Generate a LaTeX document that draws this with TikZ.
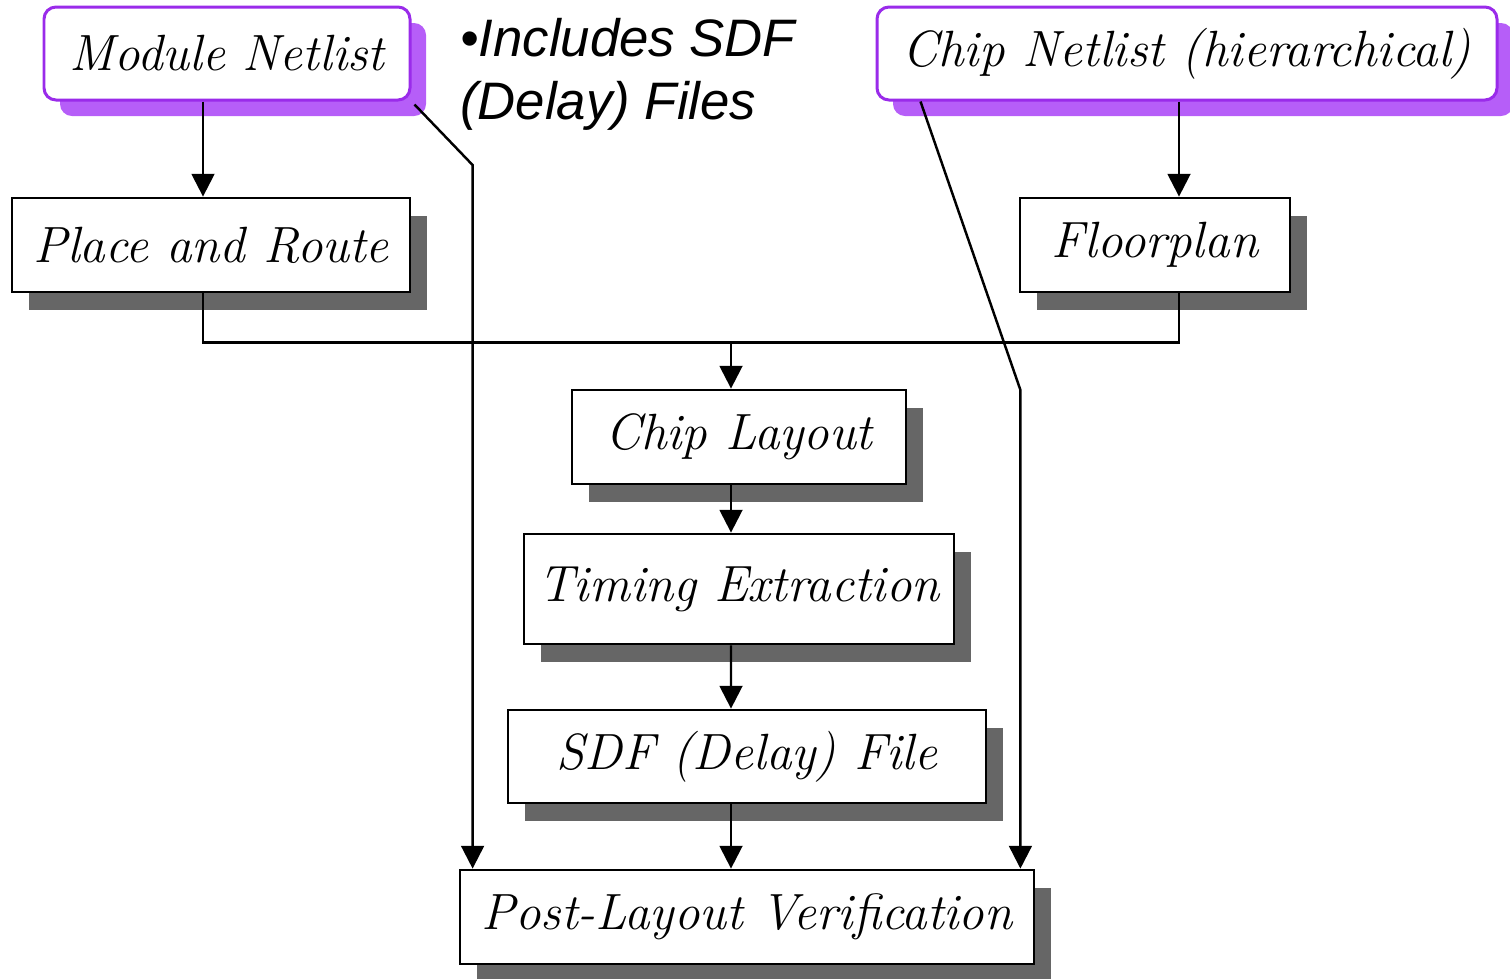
\documentclass[tikz,border=0pt]{standalone}
\usepackage{fontspec}
\newfontfamily\sansit{Liberation Sans}
\usetikzlibrary{arrows.meta,shadows,calc}
\definecolor{netpurple}{HTML}{9A2BEA}
\definecolor{netshadow}{HTML}{B65EF8}
\definecolor{boxshadow}{HTML}{666666}
\begin{document}
\begin{tikzpicture}[
  every node/.style={font=\fontsize{29}{34}\selectfont\itshape, inner sep=0pt, align=center},
  netbox/.style={draw=netpurple, line width=1.7pt, fill=white, rounded corners=0.24cm,
    drop shadow={shadow xshift=0.32cm, shadow yshift=-0.32cm, fill=netshadow, opacity=1}},
  stepbox/.style={draw=black, line width=1.6pt, fill=white,
    drop shadow={shadow xshift=0.34cm, shadow yshift=-0.35cm, fill=boxshadow, opacity=1}},
  conn/.style={line width=1.4pt, black},
  arr/.style={conn, -{Triangle[length=13pt,width=13pt]}}
]
\useasboundingbox (0,0) rectangle (30.2,-19.56);

\node[netbox, minimum width=7.32cm, minimum height=1.86cm] (mod) at (4.54,-1.07) {Module Netlist};
\node[netbox, minimum width=12.4cm, minimum height=1.86cm] (chip) at (23.74,-1.07) {Chip Netlist (hierarchical)};
\node[stepbox, minimum width=7.96cm, minimum height=1.88cm] (par) at (4.22,-4.9) {Place and Route};
\node[stepbox, minimum width=5.4cm, minimum height=1.88cm] (floor) at (23.1,-4.9) {Floorplan};
\node[stepbox, minimum width=6.68cm, minimum height=1.88cm] (layout) at (14.78,-8.74) {Chip Layout};
\node[stepbox, minimum width=8.6cm, minimum height=2.2cm] (timing) at (14.78,-11.78) {Timing Extraction};
\node[stepbox, minimum width=9.56cm, minimum height=1.86cm] (sdf) at (14.94,-15.13) {SDF (Delay) File};
\node[stepbox, minimum width=11.48cm, minimum height=1.88cm] (post) at (14.94,-18.34) {Post-Layout Verification};

\node[anchor=north west, align=left, font=\sansit\fontsize{30}{36}\selectfont\itshape] (note) at (9.2,-0.36)
  {\textbullet Includes SDF\\(Delay) Files};

% main flow
\draw[arr] ([xshift=-0.48cm]mod.south) -- ([xshift=-0.16cm]par.north);
\draw[arr] ([xshift=-0.16cm]chip.south) -- ([xshift=0.48cm]floor.south |- floor.north);
\coordinate (bus) at ([xshift=-0.16cm,yshift=-0.98cm]par.south);
\draw[conn] ([xshift=-0.16cm]par.south) -- (bus) -| ([xshift=0.48cm]floor.south);
\coordinate (lt) at ([xshift=-0.16cm]layout.north);
\draw[arr] (lt |- bus) -- (lt);
\draw[arr] ([xshift=-0.16cm]layout.south) -- ([xshift=-0.16cm]timing.north);
\draw[arr] ([xshift=-0.16cm]timing.south) -- ([xshift=-0.32cm]sdf.north);
\draw[arr] ([xshift=-0.32cm]sdf.south) -- ([xshift=-0.32cm]post.north);

% SDF side lines
\coordinate (pl) at ([xshift=0.28cm]post.north west);
\coordinate (pr) at ([xshift=-0.3cm]post.north east);
\draw[arr] ([shift={(0.06cm,-0.06cm)}]mod.south east) -- (pl |- 0,-3.3) -- (pl);
\draw[arr] ([xshift=0.9cm]chip.south west) -- (pr |- 0,-7.8) -- (pr);
\end{tikzpicture}
\end{document}
